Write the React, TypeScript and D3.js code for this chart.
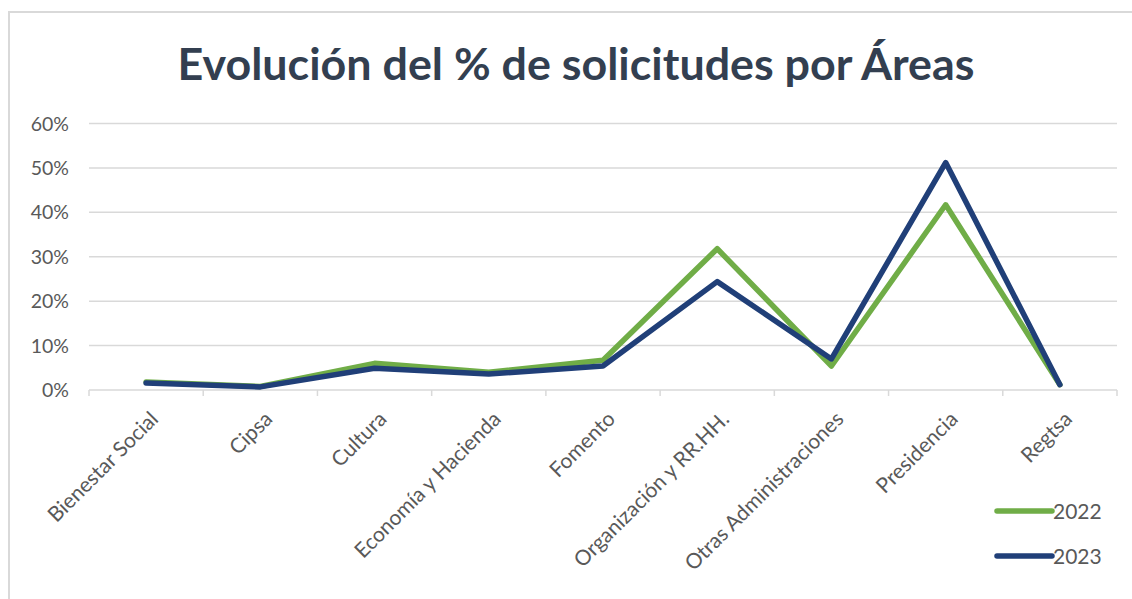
import React, { useEffect, useRef } from 'react';
import * as d3 from 'd3';

// Areas on the x axis
const areas = [
  'Bienestar Social',
  'Cipsa',
  'Cultura',
  'Economía y Hacienda',
  'Fomento',
  'Organización y RR.HH.',
  'Otras Administraciones',
  'Presidencia',
  'Regtsa',
];

// % of requests per area
const values2022 = [0.018, 0.008, 0.06, 0.04, 0.067, 0.318, 0.054, 0.417, 0.012];
const values2023 = [0.016, 0.007, 0.049, 0.036, 0.054, 0.244, 0.07, 0.512, 0.012];

const yTicks = [0, 0.1, 0.2, 0.3, 0.4, 0.5, 0.6];

const seriesList = [
  { name: '2022', values: values2022, color: '#70ad47' },
  { name: '2023', values: values2023, color: '#203f78' },
];

const W = 1132;
const H = 599;
const FONT = 'Lato, "Open Sans", sans-serif';

export default function App() {
  const svgRef = useRef<SVGSVGElement>(null);

  useEffect(() => {
    if (!svgRef.current) return;
    const svg = d3.select(svgRef.current);
    svg.selectAll('*').remove();

    svg.append('rect').attr('width', W).attr('height', H).attr('fill', '#fff');

    // outer chart border (runs off the right/bottom edge)
    svg.append('rect')
      .attr('x', 9).attr('y', 12)
      .attr('width', W + 20).attr('height', H + 20)
      .attr('fill', 'none')
      .attr('stroke', '#d9d9d9')
      .attr('stroke-width', 2);

    // title
    svg.append('text')
      .attr('x', 576).attr('y', 80)
      .attr('text-anchor', 'middle')
      .attr('font-family', FONT)
      .attr('font-weight', 700)
      .attr('font-size', 44)
      .attr('fill', '#333f50')
      .attr('textLength', 797)
      .attr('lengthAdjust', 'spacingAndGlyphs')
      .text('Evolución del % de solicitudes por Áreas');

    const left = 89, right = 1117, top = 123.5, bottom = 390;

    const x = d3.scaleBand<string>().domain(areas).range([left, right]);
    const y = d3.scaleLinear().domain([0, 0.6]).range([bottom, top]);
    const cx = (a: string) => (x(a) as number) + x.bandwidth() / 2;

    // gridlines
    svg.append('g')
      .selectAll('line')
      .data(yTicks)
      .enter()
      .append('line')
      .attr('x1', left).attr('x2', right)
      .attr('y1', d => y(d)).attr('y2', d => y(d))
      .attr('stroke', '#d9d9d9')
      .attr('stroke-width', 1.5);

    // y labels
    svg.append('g')
      .selectAll('text')
      .data(yTicks)
      .enter()
      .append('text')
      .attr('x', 69)
      .attr('y', d => y(d))
      .attr('dy', '0.36em')
      .attr('text-anchor', 'end')
      .attr('font-family', FONT)
      .attr('font-size', 19.5)
      .attr('fill', '#595959')
      .text(d => d3.format('.0%')(d));

    // x tick marks at band edges
    const edges = areas.map(a => x(a) as number).concat([right]);
    svg.append('g')
      .selectAll('line')
      .data(edges)
      .enter()
      .append('line')
      .attr('x1', d => d).attr('x2', d => d)
      .attr('y1', bottom).attr('y2', bottom + 6)
      .attr('stroke', '#d9d9d9')
      .attr('stroke-width', 1.5);

    // x labels, rotated
    svg.append('g')
      .selectAll('text')
      .data(areas)
      .enter()
      .append('text')
      .attr('transform', d => `translate(${cx(d) + 3},${bottom + 20}) rotate(-45)`)
      .attr('dy', '0.7em')
      .attr('text-anchor', 'end')
      .attr('font-family', FONT)
      .attr('font-size', 21)
      .attr('fill', '#595959')
      .text(d => d);

    const line = d3.line<number>()
      .x((_, i) => cx(areas[i]))
      .y(d => y(d));

    seriesList.forEach(s => {
      svg.append('path')
        .datum(s.values)
        .attr('d', line)
        .attr('fill', 'none')
        .attr('stroke', s.color)
        .attr('stroke-width', 5.5)
        .attr('stroke-linejoin', 'round')
        .attr('stroke-linecap', 'round');
    });

    // legend
    const legend = svg.append('g').attr('transform', 'translate(997,511)');
    seriesList.forEach((s, i) => {
      const row = legend.append('g').attr('transform', `translate(0,${i * 45})`);
      row.append('line')
        .attr('x1', 0).attr('x2', 55)
        .attr('stroke', s.color)
        .attr('stroke-width', 5.5)
        .attr('stroke-linecap', 'round');
      row.append('text')
        .attr('x', 56)
        .attr('dy', '0.36em')
        .attr('font-family', FONT)
        .attr('font-size', 21)
        .attr('fill', '#595959')
        .text(s.name);
    });
  }, []);

  return (
    <svg
      ref={svgRef}
      width={W}
      height={H}
      style={{ position: 'absolute', left: 0, top: 0 }}
    />
  );
}
